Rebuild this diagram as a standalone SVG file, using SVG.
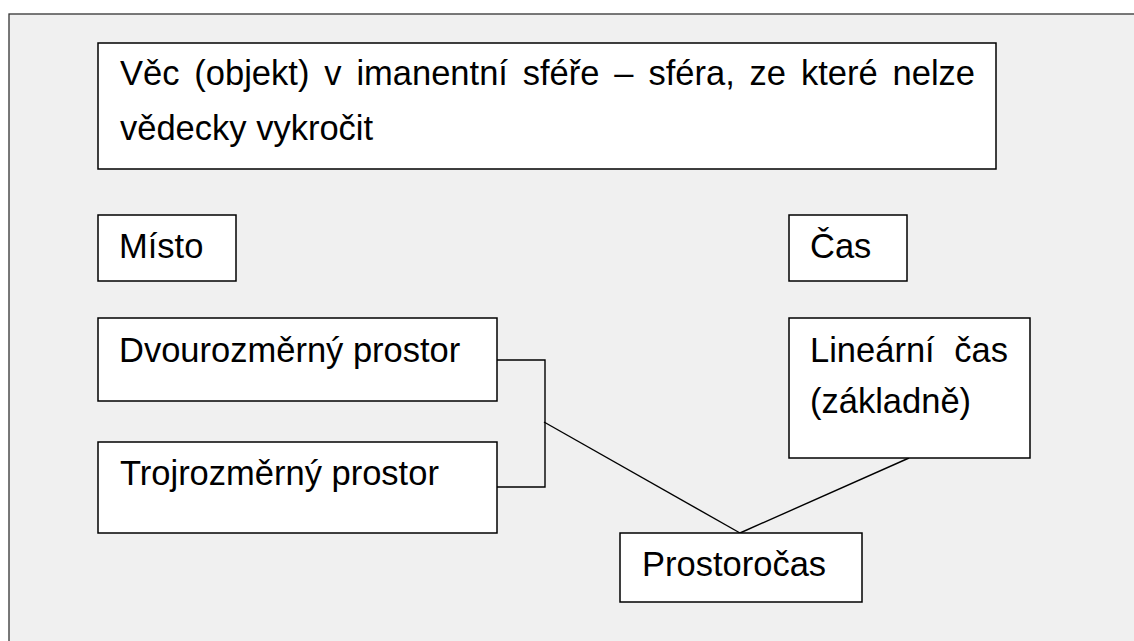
<svg xmlns="http://www.w3.org/2000/svg" width="1134" height="641" viewBox="0 0 1134 641">
  <style>
    .box { fill: #ffffff; stroke: #000000; stroke-width: 1.5; }
    .lbl { font-family: "Liberation Sans", Arial, sans-serif; font-size: 34.5px; fill: #000000; }
    .wire { fill: none; stroke: #000000; stroke-width: 1.4; }
  </style>

  <!-- page background and frame -->
  <rect x="0" y="0" width="1134" height="641" fill="#ffffff"/>
  <rect x="9" y="14" width="1140" height="640" fill="#f0f0f0" stroke="#333333" stroke-width="1.3"/>

  <!-- connectors -->
  <g id="connectors">
    <polyline class="wire" points="497,360 545,360 545,487 497,487"/>
    <line class="wire" x1="544" y1="422" x2="740" y2="533"/>
    <line class="wire" x1="909" y1="458" x2="740" y2="533"/>
  </g>

  <g id="node-vec">
    <rect class="box" x="98" y="43" width="898" height="126"/>
    <text class="lbl" x="120" y="85" word-spacing="5.3">Věc (objekt) v imanentní sféře – sféra, ze které nelze</text>
    <text class="lbl" x="120" y="140">vědecky vykročit</text>
  </g>

  <g id="node-misto">
    <rect class="box" x="98" y="215" width="138" height="66"/>
    <text class="lbl" x="119" y="258">Místo</text>
  </g>

  <g id="node-cas">
    <rect class="box" x="789" y="215" width="118" height="66"/>
    <text class="lbl" x="810" y="258">Čas</text>
  </g>

  <g id="node-dvourozmerny">
    <rect class="box" x="98" y="318" width="399" height="83"/>
    <text class="lbl" x="119" y="362">Dvourozměrný prostor</text>
  </g>

  <g id="node-trojrozmerny">
    <rect class="box" x="98" y="442" width="399" height="91"/>
    <text class="lbl" x="120" y="485">Trojrozměrný prostor</text>
  </g>

  <g id="node-linearni">
    <rect class="box" x="789" y="318" width="241" height="140"/>
    <text class="lbl" x="810" y="362" word-spacing="10">Lineární čas</text>
    <text class="lbl" x="810" y="413">(základně)</text>
  </g>

  <g id="node-prostorocas">
    <rect class="box" x="620" y="533" width="242" height="69"/>
    <text class="lbl" x="642" y="576">Prostoročas</text>
  </g>
</svg>
